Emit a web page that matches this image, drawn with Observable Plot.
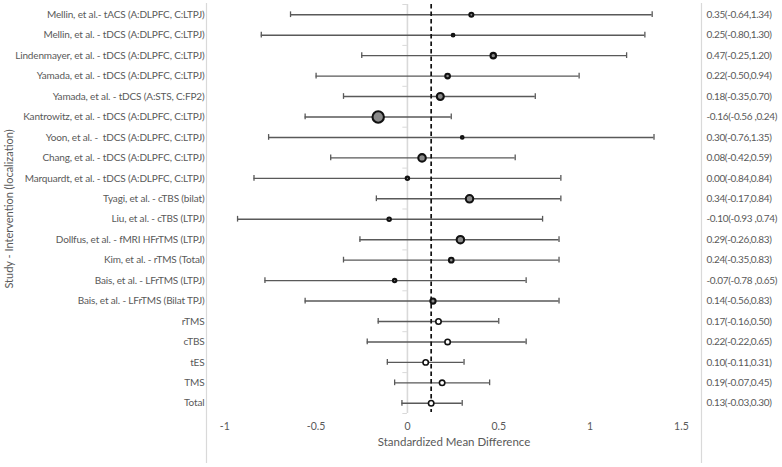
<!DOCTYPE html>
<html>
<head>
<meta charset="utf-8">
<script src="https://cdn.jsdelivr.net/npm/d3@7"></script>
<script src="https://cdn.jsdelivr.net/npm/@observablehq/plot@0.6"></script>
<style>
  html, body { margin: 0; padding: 0; background: #fff; }
  #chart svg { display: block; }
  .row-label { letter-spacing: -0.15px; }
  .ci-label { letter-spacing: -0.35px; }
</style>
</head>
<body>
<div id="chart"></div>
<script>
// Study / intervention rows, top to bottom
const studies = [
  "Mellin, et al.- tACS (A:DLPFC, C:LTPJ)",
  "Mellin, et al. - tDCS (A:DLPFC, C:LTPJ)",
  "Lindenmayer, et al. - tDCS (A:DLPFC, C:LTPJ)",
  "Yamada, et al. - tDCS (A:DLPFC, C:LTPJ)",
  "Yamada, et al. - tDCS (A:STS, C:FP2)",
  "Kantrowitz, et al. - tDCS (A:DLPFC, C:LTPJ)",
  "Yoon, et al. -  tDCS (A:DLPFC, C:LTPJ)",
  "Chang, et al. - tDCS (A:DLPFC, C:LTPJ)",
  "Marquardt, et al. - tDCS (A:DLPFC, C:LTPJ)",
  "Tyagi, et al. - cTBS (bilat)",
  "Liu, et al. - cTBS (LTPJ)",
  "Dollfus, et al. - fMRI HFrTMS (LTPJ)",
  "Kim, et al. - rTMS (Total)",
  "Bais, et al. - LFrTMS (LTPJ)",
  "Bais, et al. - LFrTMS (Bilat TPJ)",
  "rTMS",
  "cTBS",
  "tES",
  "TMS",
  "Total"
];

// Standardized mean difference and 95% CI
const estimate = [0.35, 0.25, 0.47, 0.22, 0.18, -0.16, 0.30, 0.08, 0.00, 0.34, -0.10, 0.29, 0.24, -0.07, 0.14, 0.17, 0.22, 0.10, 0.19, 0.13];
const lower    = [-0.64, -0.80, -0.25, -0.50, -0.35, -0.56, -0.76, -0.42, -0.84, -0.17, -0.93, -0.26, -0.35, -0.78, -0.56, -0.16, -0.22, -0.11, -0.07, -0.03];
const upper    = [1.34, 1.30, 1.20, 0.94, 0.70, 0.24, 1.35, 0.59, 0.84, 0.84, 0.74, 0.83, 0.83, 0.65, 0.83, 0.50, 0.65, 0.31, 0.45, 0.30];

// Relative study weights (%); pooled summary rows carry none
const weight = [3.2, 1.4, 5.9, 4.3, 9.7, 25.8, 1.4, 11.0, 2.3, 11.0, 2.3, 11.0, 4.3, 2.3, 5.3, null, null, null, null, null];

// X axis tick labels
const xTicks = [-1, -0.5, 0, 0.5, 1, 1.5];

const axisTitleX = "Standardized Mean Difference";
const axisTitleY = "Study - Intervention (localization)";

const fmt = v => v.toFixed(2);
const rows = studies.map((label, i) => ({
  label,
  est: estimate[i],
  lo: lower[i],
  hi: upper[i],
  w: weight[i],
  pooled: weight[i] == null,
  y: studies.length - 0.5 - i,
  ci: `${fmt(estimate[i])}(${fmt(lower[i])}${estimate[i] < 0 ? " " : ""},${fmt(upper[i])})`
}));
const studyRows = rows.filter(d => !d.pooled);
const pooledRows = rows.filter(d => d.pooled);
const overall = rows[rows.length - 1].est;

const xDomain = [-1.1, 1.61];
const yTicks = d3.range(0, studies.length + 1, 2);
const grey = "#595959";
const light = "#d9d9d9";

const chart = Plot.plot({
  width: 782,
  height: 467,
  marginLeft: 206,
  marginRight: 81,
  marginTop: 4,
  marginBottom: 54,
  style: {
    fontFamily: "'Lato', sans-serif",
    fontSize: "10px",
    color: grey,
    background: "#fff"
  },
  x: { domain: xDomain },
  y: { domain: [0, studies.length], axis: null },
  r: { type: "sqrt", domain: [0, 25.8], range: [0, 5.7] },
  marks: [
    // side borders of the plot panel
    Plot.ruleX(xDomain, { y1: studies.length + 0.05, y2: -2.45, stroke: light, strokeWidth: 1.2 }),
    // line of no effect with its tick marks
    Plot.ruleX([0], { y1: studies.length, y2: 0, stroke: light, strokeWidth: 1.6 }),
    Plot.ruleY(yTicks, { y: d => d, x1: -0.025, x2: 0, stroke: light, strokeWidth: 1 }),
    // confidence intervals with end caps
    Plot.ruleY(rows, { y: "y", x1: "lo", x2: "hi", stroke: grey, strokeWidth: 1.4 }),
    Plot.ruleX(rows, { x: "lo", y1: d => d.y - 0.14, y2: d => d.y + 0.14, stroke: grey, strokeWidth: 1.3 }),
    Plot.ruleX(rows, { x: "hi", y1: d => d.y - 0.14, y2: d => d.y + 0.14, stroke: grey, strokeWidth: 1.3 }),
    // overall pooled effect
    Plot.ruleX([overall], { y1: studies.length, y2: 0.05, stroke: "#111", strokeWidth: 1.7, strokeDasharray: "4.5,3" }),
    // point estimates
    Plot.dot(studyRows, { x: "est", y: "y", r: "w", fill: "#8a8a8a", stroke: "#111", strokeWidth: 2.1 }),
    Plot.dot(pooledRows, { x: "est", y: "y", r: 2.7, fill: "#fff", stroke: "#111", strokeWidth: 1.6 }),
    // row labels and CI text
    Plot.text(rows, { y: "y", text: "label", frameAnchor: "left", dx: -2, textAnchor: "end", className: "row-label" }),
    Plot.text(rows, { y: "y", text: "ci", frameAnchor: "right", dx: 5, textAnchor: "start", className: "ci-label" }),
    // axes and titles
    Plot.axisX(xTicks, { tickSize: 0, tickPadding: 9, label: null, tickFormat: d => String(d), fontSize: 10.5 }),
    Plot.text([axisTitleX], { frameAnchor: "bottom", dy: 32, fontSize: 11.5 }),
    Plot.text([axisTitleY], { frameAnchor: "left", dx: -197, rotate: -90, textAnchor: "middle", fontSize: 11 })
  ]
});

document.getElementById("chart").append(chart);
</script>
</body>
</html>
